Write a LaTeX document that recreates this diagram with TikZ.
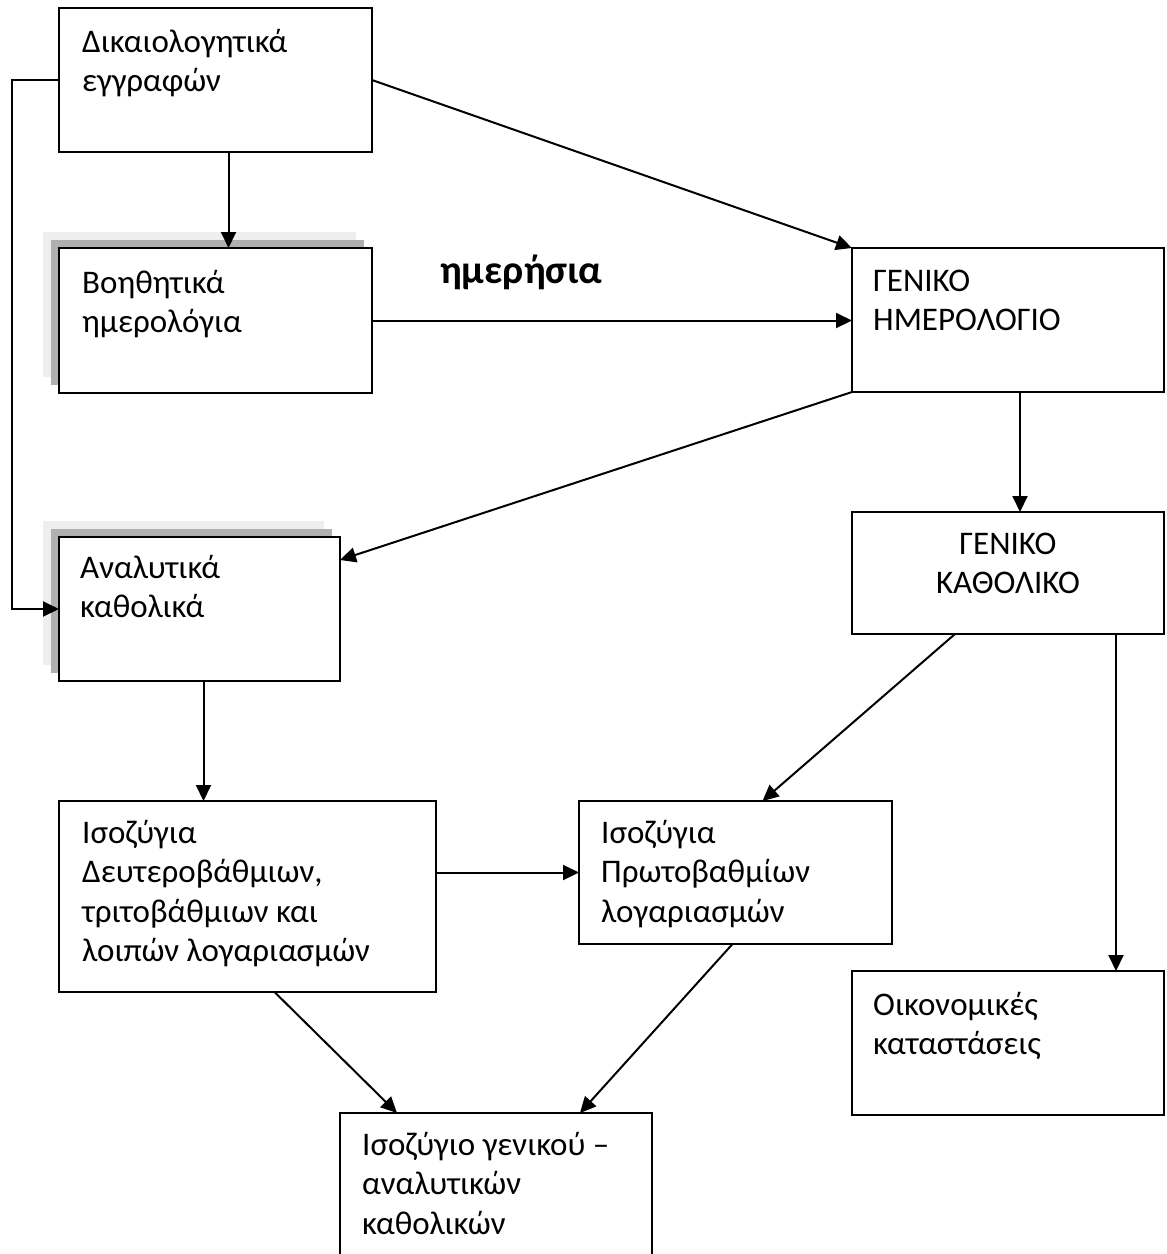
\documentclass[tikz,border=0pt]{standalone}
\usepackage{fontspec}
\setmainfont{Carlito}
\usetikzlibrary{arrows.meta,shadows,calc}
\definecolor{shdark}{HTML}{B0B0B0}
\definecolor{shlight}{HTML}{EEEEEE}
\begin{document}
\begin{tikzpicture}[x=1pt,y=-1pt,
  box/.style={draw=black, line width=2pt, fill=white, inner sep=0pt, outer sep=0pt},
  shadowed/.style={general shadow={fill=shlight, draw=none, shadow xshift=-16pt, shadow yshift=16pt},
                   general shadow={fill=shdark, draw=none, shadow xshift=-8pt, shadow yshift=8pt}},
  txt/.style={anchor=base west, inner sep=0pt, align=left, font=\fontsize{33pt}{39.5pt}\selectfont},
  arr/.style={line width=2pt, -{Triangle[length=16pt,width=15pt]}},
  lbl/.style={anchor=base west, inner sep=0pt, font=\bfseries\fontsize{40pt}{44pt}\selectfont}]
\clip (0,0) rectangle (1167,1254);
\fill[white] (0,0) rectangle (1167,1254);
% boxes
\node[box, minimum width=313pt, minimum height=144pt] (b1) at (215.5,80) {};
\node[box, shadowed, minimum width=313pt, minimum height=145pt] (b2) at (215.5,320.5) {};
\node[box, minimum width=312pt, minimum height=144pt] (gh) at (1008,320) {};
\node[box, minimum width=312pt, minimum height=122pt] (gk) at (1008,573) {};
\node[box, shadowed, minimum width=281pt, minimum height=144pt] (anal) at (199.5,609) {};
\node[box, minimum width=377pt, minimum height=191pt] (deut) at (247.5,896.5) {};
\node[box, minimum width=313pt, minimum height=143pt] (prot) at (735.5,872.5) {};
\node[box, minimum width=312pt, minimum height=144pt] (oik) at (1008,1043) {};
\node[box, minimum width=312pt, minimum height=170pt] (bot) at (496,1198) {};
% texts (base anchor = baseline of the last line)
\node[txt] (t1) at ($(b1.north west)+(23,83.5)$) {Δικαιολογητικά\\εγγραφών};
\node[txt] (t2) at ($(b2.north west)+(23,84.5)$) {Βοηθητικά\\ημερολόγια};
\node[txt] (t3) at ($(gh.north west)+(21,82.5)$) {ΓΕΝΙΚΟ\\ΗΜΕΡΟΛΟΓΙΟ};
\node[txt, anchor=base, align=center] (t4) at ($(gk.north)+(0,81.5)$) {ΓΕΝΙΚΟ\\ΚΑΘΟΛΙΚΟ};
\node[txt] (t5) at ($(anal.north west)+(21,80.5)$) {Αναλυτικά\\καθολικά};
\node[txt] (t6) at ($(deut.north west)+(23,160.5)$) {Ισοζύγια\\Δευτεροβάθμιων,\\τριτοβάθμιων και\\λοιπών λογαριασμών};
\node[txt] (t7) at ($(prot.north west)+(22,121)$) {Ισοζύγια\\Πρωτοβαθμίων\\λογαριασμών};
\node[txt] (t8) at ($(oik.north west)+(21,83.5)$) {Οικονομικές\\καταστάσεις};
\node[txt] (t9) at ($(bot.north west)+(22,121)$) {Ισοζύγιο γενικού –\\αναλυτικών\\καθολικών};
\node[lbl] (daily) at (440,283) {ημερήσια};
% connectors
\draw[arr] (b1.east) -- (gh.north west);
\draw[arr] ([xshift=13pt]b1.south) -- ([xshift=13pt]b1.south |- b2.north);
\draw[arr] (b2.east) -- (b2.east -| gh.west);
\draw[arr] (gh.south west) -- ($(anal.north east)+(0,23)$);
\draw[arr] (b1.west) -- ++(-47,0) |- (anal.west);
\draw[arr] ([xshift=12pt]gh.south) -- ([xshift=12pt]gk.north);
\draw[arr] ([xshift=4pt]anal.south) -- ([xshift=4pt]anal.south |- deut.north);
\draw[arr] (deut.east |- prot.west) -- (prot.west);
\draw[arr] ([xshift=-53pt]gk.south) -- ([xshift=27pt]prot.north);
\draw[arr] ([xshift=108pt]gk.south) -- ([xshift=108pt]gk.south |- oik.north);
\draw[arr] ([xshift=27pt]deut.south) -- ([xshift=-99pt]bot.north);
\draw[arr] ([xshift=-3pt]prot.south) -- ([xshift=84pt]bot.north);
\end{tikzpicture}
\end{document}
